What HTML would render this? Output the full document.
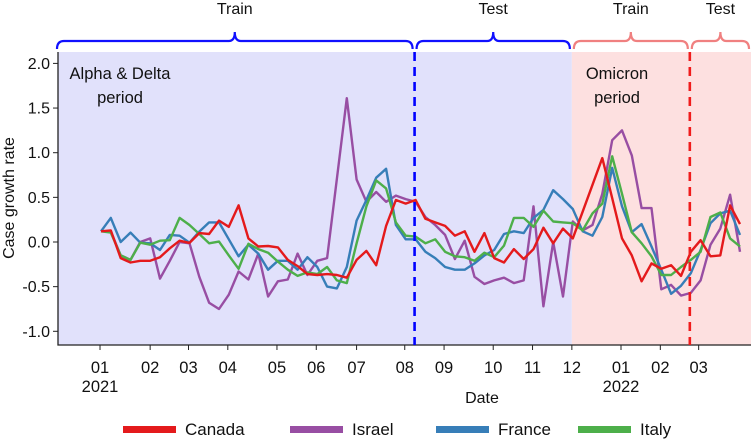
<!DOCTYPE html>
<html><head><meta charset="utf-8"><style>
html,body{margin:0;padding:0;background:#fff;}
svg{display:block;font-family:"Liberation Sans",Arial,sans-serif;}
</style></head><body>
<svg id="chart" width="751" height="439" viewBox="0 0 751 439" xmlns="http://www.w3.org/2000/svg"></svg>
<script>
const weeks = Array.from({length:66},(_,i)=>i);
const canada = [0.12,0.13,-0.18,-0.23,-0.21,-0.21,-0.17,-0.07,0.015,-0.01,0.10,0.09,0.24,0.17,0.41,0.04,-0.05,-0.045,-0.06,-0.2,-0.27,-0.36,-0.37,-0.36,-0.37,-0.40,-0.20,-0.10,-0.26,0.18,0.47,0.43,0.47,0.26,0.22,0.18,0.07,0.12,-0.11,0.10,-0.18,-0.23,-0.08,-0.19,-0.08,0.16,-0.015,0.15,0.04,0.34,0.64,0.94,0.49,0.04,-0.15,-0.44,-0.24,-0.30,-0.26,-0.38,-0.11,0.02,-0.16,-0.15,0.41,0.20];
const israel = [0.12,0.12,-0.15,-0.2,0.0,0.04,-0.41,-0.21,0.0,-0.015,-0.39,-0.68,-0.75,-0.59,-0.33,-0.42,-0.13,-0.61,-0.44,-0.42,-0.13,-0.37,-0.21,-0.18,0.71,1.61,0.70,0.45,0.56,0.45,0.52,0.48,0.45,0.28,0.19,0.08,-0.19,0.015,-0.39,-0.47,-0.43,-0.40,-0.46,-0.43,0.40,-0.72,0.0,-0.61,0.23,0.13,0.19,0.54,1.14,1.25,0.97,0.38,0.38,-0.53,-0.48,-0.60,-0.57,-0.43,-0.03,0.15,0.53,-0.11];
const france = [0.12,0.27,0.0,0.105,-0.008,-0.015,-0.09,0.08,0.07,-0.008,0.116,0.22,0.22,0.03,-0.16,-0.03,-0.13,-0.31,-0.21,-0.21,-0.31,-0.17,-0.28,-0.50,-0.52,-0.28,0.24,0.47,0.72,0.82,0.19,0.03,0.03,-0.11,-0.18,-0.28,-0.31,-0.31,-0.24,-0.15,-0.09,0.09,0.12,0.10,0.27,0.36,0.58,0.48,0.37,0.12,0.07,0.28,0.83,0.40,0.11,0.20,-0.05,-0.31,-0.58,-0.49,-0.35,-0.09,0.21,0.32,0.35,0.08];
const italy = [0.12,0.105,-0.15,-0.20,-0.008,-0.03,0.015,0.02,0.27,0.19,0.09,-0.015,0.004,-0.15,-0.30,-0.02,-0.08,-0.12,-0.22,-0.31,-0.38,-0.34,-0.36,-0.28,-0.43,-0.46,-0.015,0.40,0.69,0.60,0.22,0.07,0.06,-0.015,0.03,-0.11,-0.16,-0.17,-0.21,-0.12,-0.17,-0.04,0.27,0.27,0.17,0.35,0.23,0.22,0.21,0.13,0.32,0.43,0.96,0.54,0.11,-0.015,-0.16,-0.37,-0.37,-0.28,-0.20,-0.11,0.28,0.33,0.04,-0.05];
const yTicks = [2.0,1.5,1.0,0.5,0.0,-0.5,-1.0];
const yTickLabels = ["2.0","1.5","1.0","0.5","0.0","-0.5","-1.0"];
const xTickWeeks = [-0.1,5.0,8.9,12.9,17.9,21.9,26.0,30.9,34.9,39.9,43.9,47.9,52.9,56.9,60.8];
const xTickLabels = ["01","02","03","04","05","06","07","08","09","10","11","12","01","02","03"];
const xTickYears = ["2021","","","","","","","","","","","","2022","",""];
const trainTestSplit = [31.9, 59.9];
const periodSplit = 47.9;

const NS="http://www.w3.org/2000/svg";
const svg=document.getElementById('chart');
const L=58,R=751,T=52,B=345;
const xS=w=>101+w*9.83;
const yS=v=>242-v*89.3;
function mk(tag,attrs,parent){const e=document.createElementNS(NS,tag);for(const k in attrs)e.setAttribute(k,attrs[k]);(parent||svg).appendChild(e);return e;}

let bg1=mk('rect',{x:L,y:T,width:xS(periodSplit)-L,height:B-T,fill:'#e1e1fb'});


let bg2=mk('rect',{x:xS(periodSplit),y:T,width:R-xS(periodSplit),height:B-T,fill:'#fde0e0'});



let ax=mk('path',{d:`M${L} ${T} V${B} H${R}`,stroke:'#222',fill:'none','stroke-width':1.3});


yTicks.forEach((v,i)=>{
  mk('line',{x1:L-5,x2:L,y1:yS(v),y2:yS(v),stroke:'#222'});
  let t=mk('text',{x:L-8,y:yS(v)+5.5,'text-anchor':'end','font-size':16,fill:'#111'});
  t.textContent=yTickLabels[i];
  
  
});
xTickWeeks.forEach((w,i)=>{
  const x=xS(w);
  mk('line',{x1:x,x2:x,y1:B,y2:B+5,stroke:'#222'});
  let t=mk('text',{x:x,y:373,'text-anchor':'middle','font-size':16.5,fill:'#111'});
  t.textContent=xTickLabels[i];
  
  
  if(xTickYears[i]){
    let y=mk('text',{x:x,y:392,'text-anchor':'middle','font-size':16.5,fill:'#111'});
    y.textContent=xTickYears[i];
    
    
  }
});
let xt=mk('text',{x:482,y:403,'text-anchor':'middle','font-size':16,fill:'#111'});
xt.textContent='Date';


let yt=mk('text',{x:0,y:0,'text-anchor':'middle','font-size':16,fill:'#111',transform:'translate(14,198) rotate(-90)'});
yt.textContent='Case growth rate';



[['Alpha & Delta',120,74],['period',120,98]].forEach(a=>{
  let t=mk('text',{x:a[1],y:a[2]+5,'text-anchor':'middle','font-size':16.5,fill:'#111'});
  t.textContent=a[0];
  
  
});
[['Omicron',617,74],['period',617,98]].forEach(a=>{
  let t=mk('text',{x:a[1],y:a[2]+5,'text-anchor':'middle','font-size':16.5,fill:'#111'});
  t.textContent=a[0];
  
  
});

const series=[['canada',canada,'#e41a1c'],['israel',israel,'#984ea3'],['france',france,'#377eb8'],['italy',italy,'#4daf4a']];
const order=[1,2,3,0];
order.forEach(k=>{
  const s=series[k];
  const d=s[1].map((v,i)=>(i?'L':'M')+xS(weeks[i]).toFixed(1)+' '+yS(v).toFixed(1)).join(' ');
  let p=mk('path',{d:d,fill:'none',stroke:s[2],'stroke-width':2.4,'stroke-linejoin':'round'});
  
  
});

let d1=mk('line',{x1:xS(trainTestSplit[0]),x2:xS(trainTestSplit[0]),y1:T,y2:B,stroke:'#0000ff','stroke-width':2.6,'stroke-dasharray':'9,6'});


let d2=mk('line',{x1:xS(trainTestSplit[1]),x2:xS(trainTestSplit[1]),y1:T,y2:B,stroke:'#f01c1c','stroke-width':2.6,'stroke-dasharray':'9,6'});



function bracket(x1,x2,color,label,name){
  const m=(x1+x2)/2, yb=41, r=7;
  const d=`M${x1} 49 Q${x1} ${yb} ${x1+r} ${yb} H${m-6} Q${m} ${yb} ${m} ${yb-9} Q${m} ${yb} ${m+6} ${yb} H${x2-r} Q${x2} ${yb} ${x2} 49`;
  let p=mk('path',{d:d,fill:'none',stroke:color,'stroke-width':2.2});
  
  
  let t=mk('text',{x:m,y:14,'text-anchor':'middle','font-size':16,fill:'#111'});
  t.textContent=label;
  
  
}
bracket(57,xS(trainTestSplit[0])-2,'#1010ff','Train','train-1');
bracket(xS(trainTestSplit[0])+2,xS(periodSplit)-2,'#1010ff','Test','test-1');
bracket(xS(periodSplit)+2,xS(trainTestSplit[1])-2,'#f08080','Train','train-2');
bracket(xS(trainTestSplit[1])+2,749,'#f08080','Test','test-2');

const legX=[123,290,436,578];
const legNames=['Canada','Israel','France','Italy'];
series.forEach((s,i)=>{
  let g=mk('g',{});
  
  
  mk('rect',{x:legX[i],y:426,width:53,height:7,fill:s[2]},g);
  let t=mk('text',{x:legX[i]+62,y:435,'font-size':17,fill:'#111'},g);
  t.textContent=legNames[i];
});
</script>
</body></html>
